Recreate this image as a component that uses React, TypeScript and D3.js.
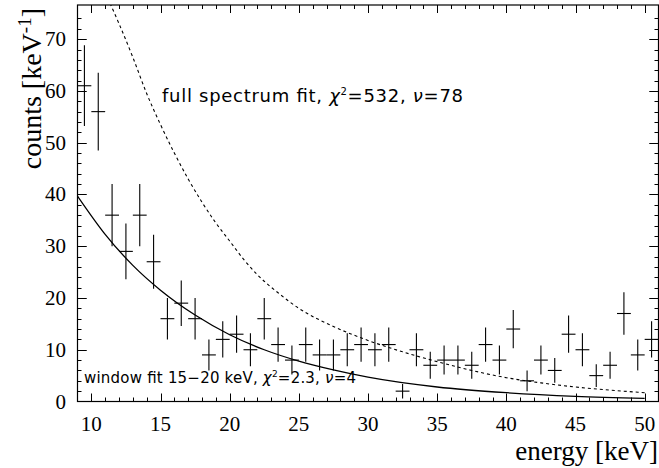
import React from "react";
import * as d3 from "d3";

// measured spectrum, 1 keV bins
const energies = [
  9.5, 10.5, 11.5, 12.5, 13.5, 14.5, 15.5, 16.5, 17.5, 18.5, 19.5, 20.5, 21.5, 22.5,
  23.5, 24.5, 25.5, 26.5, 27.5, 28.5, 29.5, 30.5, 31.5, 32.5, 33.5, 34.5, 35.5, 36.5,
  37.5, 38.5, 39.5, 40.5, 41.5, 42.5, 43.5, 44.5, 45.5, 46.5, 47.5, 48.5, 49.5, 50.5,
];
const counts = [
  61, 56, 36, 29, 36, 27, 16, 19, 16, 9, 12, 13, 10, 16,
  11, 8, 11, 9, 9, 10, 11, 10, 11, 2, 10, 7, 8, 8,
  7, 11, 8, 14, 4, 8, 6, 13, 10, 5, 7, 17, 9, 12,
];
const errors = [
  7.8, 7.5, 6.0, 5.4, 6.0, 5.2, 4.0, 4.4, 4.0, 3.0, 3.5, 3.6, 3.2, 4.0,
  3.3, 2.8, 3.3, 3.0, 3.0, 3.2, 3.3, 3.2, 3.3, 1.4, 3.2, 2.6, 2.8, 2.8,
  2.6, 3.3, 2.8, 3.7, 2.0, 2.8, 2.4, 3.6, 3.2, 2.2, 2.6, 4.1, 3.0, 3.5,
];
const binHalfWidth = 0.5;

// window fit 15-20 keV (solid)
const windowFitE = [9, 11, 13, 15, 17.5, 20, 22.5, 25, 27.5, 30, 35, 40, 45, 50];
const windowFitY = [39.7, 32.3, 26.3, 21.5, 16.7, 12.9, 10.0, 7.8, 6.1, 4.7, 2.8, 1.7, 1.0, 0.6];

// full spectrum fit (dashed)
const fullFitE = [11, 12, 13, 14, 15, 16, 17, 18, 19, 20, 21, 22, 23.5, 25, 27.5, 30, 32.5, 35, 37.5, 40, 42.5, 45, 47.5, 50];
const fullFitY = [79, 73, 66.5, 59.5, 53.5, 48, 43, 38.5, 34.5, 31, 27.5, 24.5, 21, 18, 14.5, 11.8, 9.6, 7.7, 6.0, 4.6, 3.6, 2.8, 2.2, 1.7];

const xTicks = [10, 15, 20, 25, 30, 35, 40, 45, 50];
const yTicks = [0, 10, 20, 30, 40, 50, 60, 70];

const width = 659;
const height = 468;
const left = 77.5;
const right = 658.5;
const top = 5;
const bottom = 401.5;

const serif = "'Liberation Serif', 'Times New Roman', serif";
const sans = "'DejaVu Sans', 'Liberation Sans', sans-serif";

export default function App() {
  const x = d3.scaleLinear().domain([9, 51]).range([left, right]);
  const y = d3.scaleLinear().domain([0, 76.6]).range([bottom, top]);

  const line = d3
    .line<[number, number]>()
    .x((d) => x(d[0]))
    .y((d) => y(d[1]))
    .curve(d3.curveMonotoneX);

  const windowPath = line(windowFitE.map((e, i) => [e, windowFitY[i]]));
  const fullPath = line(fullFitE.map((e, i) => [e, fullFitY[i]]));

  const xMinor = d3.range(10, 51, 1);
  const yMinor = d3.range(2, 76, 2);

  return (
    <svg
      width={width}
      height={height}
      style={{ position: "absolute", left: 0, top: 0, background: "#fff" }}
    >
      <defs>
        <clipPath id="plot">
          <rect x={left} y={top} width={right - left} height={bottom - top} />
        </clipPath>
      </defs>

      {/* ticks */}
      <g stroke="#000" strokeWidth={1}>
        {xMinor.map((t) => {
          const len = t % 5 === 0 ? 8 : 4;
          const px = Math.round(x(t)) + 0.5;
          return (
            <g key={"xt" + t}>
              <line x1={px} x2={px} y1={bottom} y2={bottom - len} />
              <line x1={px} x2={px} y1={top} y2={top + len} />
            </g>
          );
        })}
        {yMinor.concat(yTicks.slice(1)).map((t) => {
          const len = t % 10 === 0 ? 9 : 4;
          const py = Math.round(y(t)) + 0.5;
          return (
            <g key={"yt" + t}>
              <line x1={left} x2={left + len} y1={py} y2={py} />
              <line x1={right} x2={right - len} y1={py} y2={py} />
            </g>
          );
        })}
      </g>

      {/* data with error bars */}
      <g stroke="#000" strokeWidth={1.1}>
        {energies.map((e, i) => (
          <g key={"p" + i}>
            <line
              x1={x(e)}
              x2={x(e)}
              y1={y(counts[i] - errors[i])}
              y2={y(counts[i] + errors[i])}
            />
            <line
              x1={x(e - binHalfWidth)}
              x2={x(e + binHalfWidth)}
              y1={y(counts[i])}
              y2={y(counts[i])}
            />
          </g>
        ))}
      </g>

      {/* fits */}
      <g clipPath="url(#plot)" fill="none" stroke="#000">
        <path d={windowPath || ""} strokeWidth={1.3} />
        <path d={fullPath || ""} strokeWidth={1.1} strokeDasharray="3,3" />
      </g>

      {/* frame */}
      <rect
        x={left}
        y={top}
        width={right - left}
        height={bottom - top}
        fill="none"
        stroke="#000"
        strokeWidth={1.2}
      />

      {/* tick labels */}
      <g fontFamily={serif} fontSize={21} fill="#000">
        {xTicks.map((t) => (
          <text key={"xl" + t} x={x(t)} y={431} textAnchor="middle">
            {t}
          </text>
        ))}
        {yTicks.map((t) => (
          <text key={"yl" + t} x={66} y={y(t) + 7} textAnchor="end">
            {t}
          </text>
        ))}
      </g>

      {/* axis titles */}
      <text x={658} y={460} textAnchor="end" fontFamily={serif} fontSize={27}>
        energy [keV]
      </text>
      <text
        transform="translate(41,8) rotate(-90)"
        textAnchor="end"
        fontFamily={serif}
        fontSize={28}
      >
        counts [keV
        <tspan dy={-10} fontSize={19}>
          -1
        </tspan>
        <tspan dy={10}>]</tspan>
      </text>

      {/* annotations */}
      <text
        x={162}
        y={102}
        fontFamily={sans}
        fontSize={18}
        textLength={301}
        lengthAdjust="spacing"
      >
        full spectrum fit,{" "}
        <tspan fontStyle="italic">χ</tspan>
        <tspan dy={-7} fontSize={10}>
          2
        </tspan>
        <tspan dy={7}>=532, </tspan>
        <tspan fontStyle="italic">ν</tspan>=78
      </text>
      <text
        x={84}
        y={383}
        fontFamily={sans}
        fontSize={15}
        textLength={272}
        lengthAdjust="spacing"
      >
        window fit 15−20 keV,{" "}
        <tspan fontStyle="italic">χ</tspan>
        <tspan dy={-6} fontSize={9}>
          2
        </tspan>
        <tspan dy={6}>=2.3, </tspan>
        <tspan fontStyle="italic">ν</tspan>=4
      </text>
    </svg>
  );
}
